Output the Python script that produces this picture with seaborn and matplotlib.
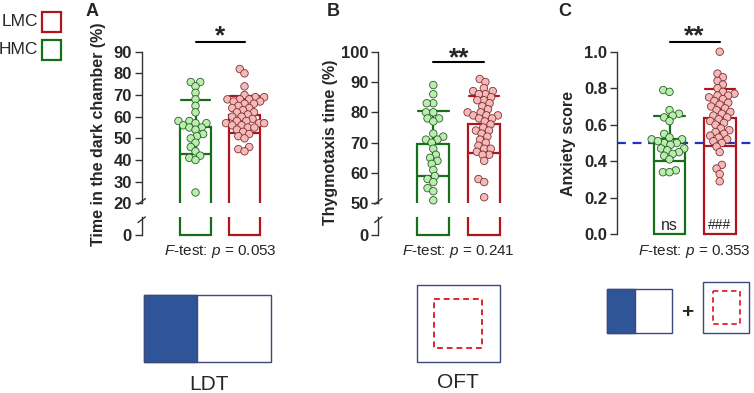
import numpy as np
import pandas as pd
import seaborn as sns
import matplotlib.pyplot as plt
from matplotlib.patches import Rectangle

groups = ["HMC", "LMC"]

# A: light/dark test, time in dark chamber (%)
ldt_hmc = [76, 76, 74, 71, 68, 65, 62, 58, 58, 57, 57, 56, 55, 55, 54, 52, 51, 50,
           48, 46, 44, 42, 41, 40, 25]
ldt_lmc = [82, 80, 74, 70, 69, 69, 68, 68, 68, 67, 67, 66, 66, 65, 64, 64, 63, 62,
           62, 61, 60, 60, 59, 58, 58, 57, 57, 57, 56, 56, 55, 55, 54, 53, 52, 51,
           50, 46, 45, 44]
# B: open field, thigmotaxis time (%)
oft_hmc = [89, 86, 83, 83, 80, 80, 78, 78, 77, 73, 72, 71, 71, 70, 68, 66, 65, 64,
           63, 61, 59, 58, 57, 55, 54, 51]
oft_lmc = [91, 90, 88, 87, 87, 86, 86, 85, 84, 84, 83, 82, 81, 80, 80, 79, 79, 79,
           78, 78, 77, 76, 75, 74, 74, 73, 72, 71, 70, 69, 68, 68, 67, 66, 66, 64,
           58, 57, 52]
# C: anxiety score
anx_hmc = [0.79, 0.78, 0.68, 0.66, 0.65, 0.64, 0.62, 0.52, 0.50, 0.47, 0.55, 0.53,
           0.52, 0.51, 0.50, 0.49, 0.47, 0.46, 0.45, 0.44, 0.43, 0.41, 0.35, 0.34, 0.34]
anx_lmc = [1.0, 0.88, 0.86, 0.84, 0.82, 0.80, 0.78, 0.77, 0.76, 0.76, 0.75, 0.74,
           0.73, 0.72, 0.71, 0.70, 0.69, 0.68, 0.67, 0.66, 0.65, 0.64, 0.63, 0.62,
           0.61, 0.60, 0.58, 0.57, 0.56, 0.55, 0.54, 0.53, 0.52, 0.51, 0.50, 0.48,
           0.45, 0.38, 0.36, 0.33, 0.29]

ftest = ["0.053", "0.241", "0.353"]
ylabels = ["Time in the dark chamber (%)", "Thygmotaxis time (%)", "Anxiety score"]

edge = {"HMC": "#16701a", "LMC": "#b3141c"}
fill = {"HMC": "#b8efad", "LMC": "#f6b8b8"}
dot_edge = {"HMC": "#2f5a2f", "LMC": "#7a3434"}

sns.set_style("ticks")
plt.rcParams["font.family"] = ["Liberation Sans", "DejaVu Sans"]
plt.rcParams["mathtext.fontset"] = "custom"
plt.rcParams["mathtext.it"] = "Liberation Sans:italic"
plt.rcParams["mathtext.rm"] = "Liberation Sans"
plt.rcParams["axes.edgecolor"] = "#333333"
plt.rcParams["axes.linewidth"] = 1.0

W, H = 754, 393
fig = plt.figure(figsize=(W / 100, H / 100), dpi=100)
swarms = []


def box(l, t, r, b):
    return [l / W, 1 - b / H, (r - l) / W, (b - t) / H]


def make_df(a, b):
    return pd.DataFrame({"group": ["HMC"] * len(a) + ["LMC"] * len(b), "value": a + b})


def style(ax, ticks, lo, hi):
    sns.despine(ax=ax, bottom=True)
    ax.set_xticks([])
    ax.set_xlabel("")
    ax.set_ylabel("")
    ax.set_yticks(ticks)
    ax.spines["left"].set_bounds(lo, hi)
    ax.tick_params(axis="y", length=5, width=1, labelsize=12, color="#333333", pad=2)
    for lbl in ax.get_yticklabels():
        lbl.set_fontweight("bold")
    ax.set_facecolor("none")


def bars(ax, df, err=True):
    for g in groups:
        sub = df[df.group == g]
        sns.barplot(data=sub, x="group", y="value", order=groups, ax=ax,
                    errorbar="sd" if err else None, capsize=0.6, fill=False,
                    color=edge[g], linewidth=1.6, width=0.63,
                    err_kws={"color": edge[g], "linewidth": 1.6})


def dots(ax, df):
    # swarm laid out with small markers so the points overlap like the original
    sns.swarmplot(data=df, x="group", y="value", order=groups, hue="group",
                  palette=fill, legend=False, size=3.9, linewidth=0.6,
                  edgecolor="#444444", ax=ax, warn_thresh=1)
    for coll, g in zip(ax.collections, groups):
        coll.set_edgecolor(dot_edge[g])
        coll.set_clip_on(False)
        swarms.append(coll)


panels = [
    dict(df=make_df(ldt_hmc, ldt_lmc), x0=141.7, x1=275, c0=195.5, sp=49.0,
         lo=20, hi=90, step=10, pxu=2.166),
    dict(df=make_df(oft_hmc, oft_lmc), x0=378.3, x1=515, c0=433.3, sp=50.9,
         lo=50, hi=100, step=10, pxu=3.032),
]

top_axes = []
for p in panels:
    xl = (-(p["c0"] - p["x0"]) / p["sp"], 1 + (p["x1"] - p["c0"] - p["sp"]) / p["sp"])
    ax = fig.add_axes(box(p["x0"], 51.7, p["x1"], 203.3))
    dots(ax, p["df"])
    bars(ax, p["df"])
    ax.set_xlim(xl)
    ax.set_ylim(p["lo"], p["hi"])
    style(ax, np.arange(p["lo"], p["hi"] + 1, p["step"]), p["lo"], p["hi"])
    top_axes.append(ax)

    axb = fig.add_axes(box(p["x0"], 216.7, p["x1"], 237))
    bars(axb, p["df"], err=False)
    axb.set_xlim(xl)
    axb.set_ylim(-2 / p["pxu"], 18.3 / p["pxu"])
    style(axb, [0], 0, 18.3 / p["pxu"])

# panel C
dfc = make_df(anx_hmc, anx_lmc)
axc = fig.add_axes(box(616.7, 51.7, 754, 237))
dots(axc, dfc)
bars(axc, dfc)
axc.axhline(0.5, color="#1f2fd0", linestyle=(0, (4, 3)), linewidth=1.6, zorder=0.5)
axc.set_xlim(-52.8 / 50.2, 1 + 34.3 / 50.2)
axc.set_ylim(-2.75 / 183.3, 1.0)
style(axc, np.round(np.arange(0, 1.01, 0.2), 1), 0, 1.0)
axc.set_yticklabels([f"{v:.1f}" for v in np.arange(0, 1.01, 0.2)], fontweight="bold")
axc.text(0, 0.048, "ns", ha="center", va="center", fontsize=11.5)
axc.text(1, 0.048, "###", ha="center", va="center", fontsize=10)

# significance brackets
for ax, y in [(top_axes[0], 94.5), (top_axes[1], 96.7), (axc, 1.0545)]:
    ax.plot([0, 1], [y, y], color="black", linewidth=1.5, clip_on=False)
for ax, y, s in [(top_axes[0], 91.6, "*"), (top_axes[1], 93.9, "**"), (axc, 1.02, "**")]:
    ax.text(0.5, y, s, ha="center", va="bottom", fontsize=19, fontweight="bold")

# overlay for labels and schematics
ov = fig.add_axes([0, 0, 1, 1])
ov.set_xlim(0, W)
ov.set_ylim(H, 0)
ov.axis("off")
ov.set_facecolor("none")

for x, t in [(92, "A"), (333, "B"), (565, "C")]:
    ov.text(x, 12, t, ha="center", va="center", fontsize=13, fontweight="bold")

for x, y, t in [(98.5, 134, ylabels[0]), (330, 142.5, ylabels[1]), (569, 143.3, ylabels[2])]:
    ov.text(x, y, t, rotation=90, ha="center", va="center", fontsize=11.5, fontweight="bold")

for x, p in zip([220, 458.8, 694.6], ftest):
    ov.text(x, 252, rf"$F$-test: $p$ = {p}", ha="center", va="center", fontsize=11)

# axis break marks
for xs in [141.7, 378.3]:
    for yb in [201.4, 219.7]:
        ov.plot([xs - 3.7, xs + 3.7], [yb + 2.8, yb - 2.8], color="#333333", linewidth=1.0)

# group key
ov.text(38, 21.7, "LMC", ha="right", va="center", fontsize=12.5)
ov.text(38, 50, "HMC", ha="right", va="center", fontsize=12.5)
ov.add_patch(Rectangle((41.7, 11.7), 19, 20.6, fill=False, edgecolor=edge["LMC"], linewidth=1.6))
ov.add_patch(Rectangle((41.7, 39.5), 19, 20.6, fill=False, edgecolor=edge["HMC"], linewidth=1.6))

navy = "#2e5597"
frame = "#3b4a78"
red_dash = "#e0262d"

# LDT schematic
ov.add_patch(Rectangle((144.3, 295), 126.7, 67.3, fill=False, edgecolor=frame, linewidth=1.0))
ov.add_patch(Rectangle((144.3, 295), 52.4, 67.3, facecolor=navy, edgecolor=frame, linewidth=1.0))
ov.text(209.3, 384, "LDT", ha="center", va="center", fontsize=15)

# OFT schematic
ov.add_patch(Rectangle((416.7, 285), 83.3, 76.7, fill=False, edgecolor=frame, linewidth=1.0))
ov.add_patch(Rectangle((434.3, 299.3), 48, 49, fill=False, edgecolor=red_dash,
                       linewidth=1.4, linestyle=(0, (3, 2))))
ov.text(458.3, 383, "OFT", ha="center", va="center", fontsize=15)

# combined schematic
ov.add_patch(Rectangle((607, 289.3), 65.4, 43.4, fill=False, edgecolor=frame, linewidth=1.0))
ov.add_patch(Rectangle((607, 289.3), 28, 43.4, facecolor=navy, edgecolor=frame, linewidth=1.0))
ov.text(686.9, 312, "+", ha="center", va="center", fontsize=15, fontweight="bold")
ov.add_patch(Rectangle((703.2, 281.7), 46.2, 51.6, fill=False, edgecolor=frame, linewidth=1.0))
ov.add_patch(Rectangle((712.8, 290.7), 27, 33.3, fill=False, edgecolor=red_dash,
                       linewidth=1.3, linestyle=(0, (3, 2))))

# fix the swarm layout, then draw the markers at their full size
fig.canvas.draw()
for coll in swarms:
    if "draw" in coll.__dict__:
        del coll.draw
    coll.set_sizes([5.4 ** 2])

fig.savefig("out.png", dpi=100)
